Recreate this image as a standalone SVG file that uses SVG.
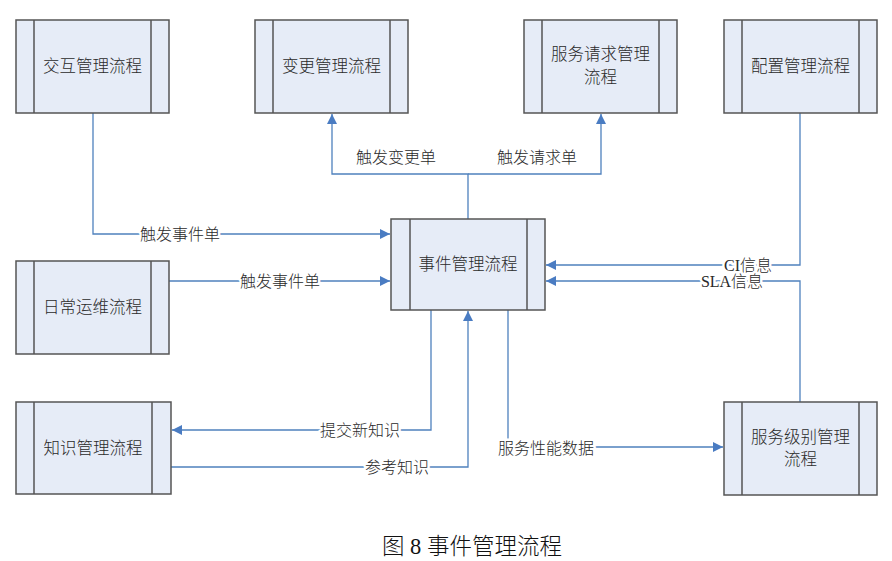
<svg xmlns="http://www.w3.org/2000/svg" width="892" height="561" viewBox="0 0 892 561">
<defs>
<style>
.box{fill:#E6ECF7;stroke:#555;stroke-width:1.5}
.bar{stroke:#555;stroke-width:1.5}
.nt{font-family:"Liberation Serif","Noto Sans CJK SC",serif;font-size:16.5px;font-weight:300;fill:#2a2a2a;text-anchor:middle;dominant-baseline:central}
.ln{fill:none;stroke:#4F81BD;stroke-width:1.3}
.lb{font-family:"Liberation Serif","Noto Sans CJK SC",serif;font-size:16px;font-weight:300;fill:#2a2a2a;text-anchor:middle;dominant-baseline:central;paint-order:stroke;stroke:#fff;stroke-width:5px;stroke-linejoin:round}
.cap{font-family:"Liberation Serif","Noto Sans CJK SC",serif;font-size:22.5px;font-weight:300;fill:#111;text-anchor:middle;dominant-baseline:central}
</style>
<marker id="ah" viewBox="0 0 10 10" refX="10" refY="5" markerWidth="10" markerHeight="10" markerUnits="userSpaceOnUse" orient="auto">
<path d="M0,0 L10,5 L0,10 z" fill="#4A7CC2"/>
</marker>
</defs>
<rect width="892" height="561" fill="#fff"/>

<g id="connectors">
<path class="ln" d="M93,113 V234 H390" marker-end="url(#ah)"/>
<path class="ln" d="M169,281 H390" marker-end="url(#ah)"/>
<path class="ln" d="M468,219 V174 H332 V114" marker-end="url(#ah)"/>
<path class="ln" d="M468,174 H601 V114" marker-end="url(#ah)"/>
<path class="ln" d="M800,113 V265 H546" marker-end="url(#ah)"/>
<path class="ln" d="M800,402 V281 H546" marker-end="url(#ah)"/>
<path class="ln" d="M431,310 V430 H172" marker-end="url(#ah)"/>
<path class="ln" d="M171,467 H468 V311" marker-end="url(#ah)"/>
<path class="ln" d="M508,310 V447 H723" marker-end="url(#ah)"/>
<text class="lb" x="180" y="234">触发事件单</text>
<text class="lb" x="280" y="281">触发事件单</text>
<text class="lb" x="396" y="157">触发变更单</text>
<text class="lb" x="537" y="157">触发请求单</text>
<text class="lb" x="748" y="265">CI信息</text>
<text class="lb" x="732" y="281">SLA信息</text>
<text class="lb" x="360" y="430">提交新知识</text>
<text class="lb" x="397" y="467">参考知识</text>
<text class="lb" x="546" y="448">服务性能数据</text>
</g>

<g id="n-jiaohu">
<rect class="box" x="16" y="20" width="153" height="93"/>
<line class="bar" x1="34" y1="20" x2="34" y2="113"/>
<line class="bar" x1="151" y1="20" x2="151" y2="113"/>
<text class="nt" x="92.5" y="66.5">交互管理流程</text>
</g>
<g id="n-biangeng">
<rect class="box" x="255" y="20" width="153" height="93"/>
<line class="bar" x1="273" y1="20" x2="273" y2="113"/>
<line class="bar" x1="390" y1="20" x2="390" y2="113"/>
<text class="nt" x="331.5" y="66.5">变更管理流程</text>
</g>
<g id="n-fuwuqingqiu">
<rect class="box" x="524" y="20" width="153" height="93"/>
<line class="bar" x1="542" y1="20" x2="542" y2="113"/>
<line class="bar" x1="659" y1="20" x2="659" y2="113"/>
<text class="nt" x="600.5" y="54">服务请求管理</text>
<text class="nt" x="600.5" y="77">流程</text>
</g>
<g id="n-peizhi">
<rect class="box" x="724" y="20" width="153" height="93"/>
<line class="bar" x1="742" y1="20" x2="742" y2="113"/>
<line class="bar" x1="859" y1="20" x2="859" y2="113"/>
<text class="nt" x="800.5" y="66.5">配置管理流程</text>
</g>
<g id="n-shijian">
<rect class="box" x="391" y="219" width="154" height="91"/>
<line class="bar" x1="410" y1="219" x2="410" y2="310"/>
<line class="bar" x1="527" y1="219" x2="527" y2="310"/>
<text class="nt" x="468" y="264.5">事件管理流程</text>
</g>
<g id="n-richang">
<rect class="box" x="16" y="261" width="153" height="93"/>
<line class="bar" x1="34" y1="261" x2="34" y2="354"/>
<line class="bar" x1="151" y1="261" x2="151" y2="354"/>
<text class="nt" x="92.5" y="307.5">日常运维流程</text>
</g>
<g id="n-zhishi">
<rect class="box" x="16" y="402" width="155" height="92"/>
<line class="bar" x1="34" y1="402" x2="34" y2="494"/>
<line class="bar" x1="152" y1="402" x2="152" y2="494"/>
<text class="nt" x="93" y="448">知识管理流程</text>
</g>
<g id="n-fuwujibie">
<rect class="box" x="724" y="402" width="153" height="93"/>
<line class="bar" x1="742" y1="402" x2="742" y2="495"/>
<line class="bar" x1="859" y1="402" x2="859" y2="495"/>
<text class="nt" x="800.5" y="437">服务级别管理</text>
<text class="nt" x="800.5" y="459">流程</text>
</g>

<text class="cap" x="472" y="546">图 8 事件管理流程</text>
</svg>
